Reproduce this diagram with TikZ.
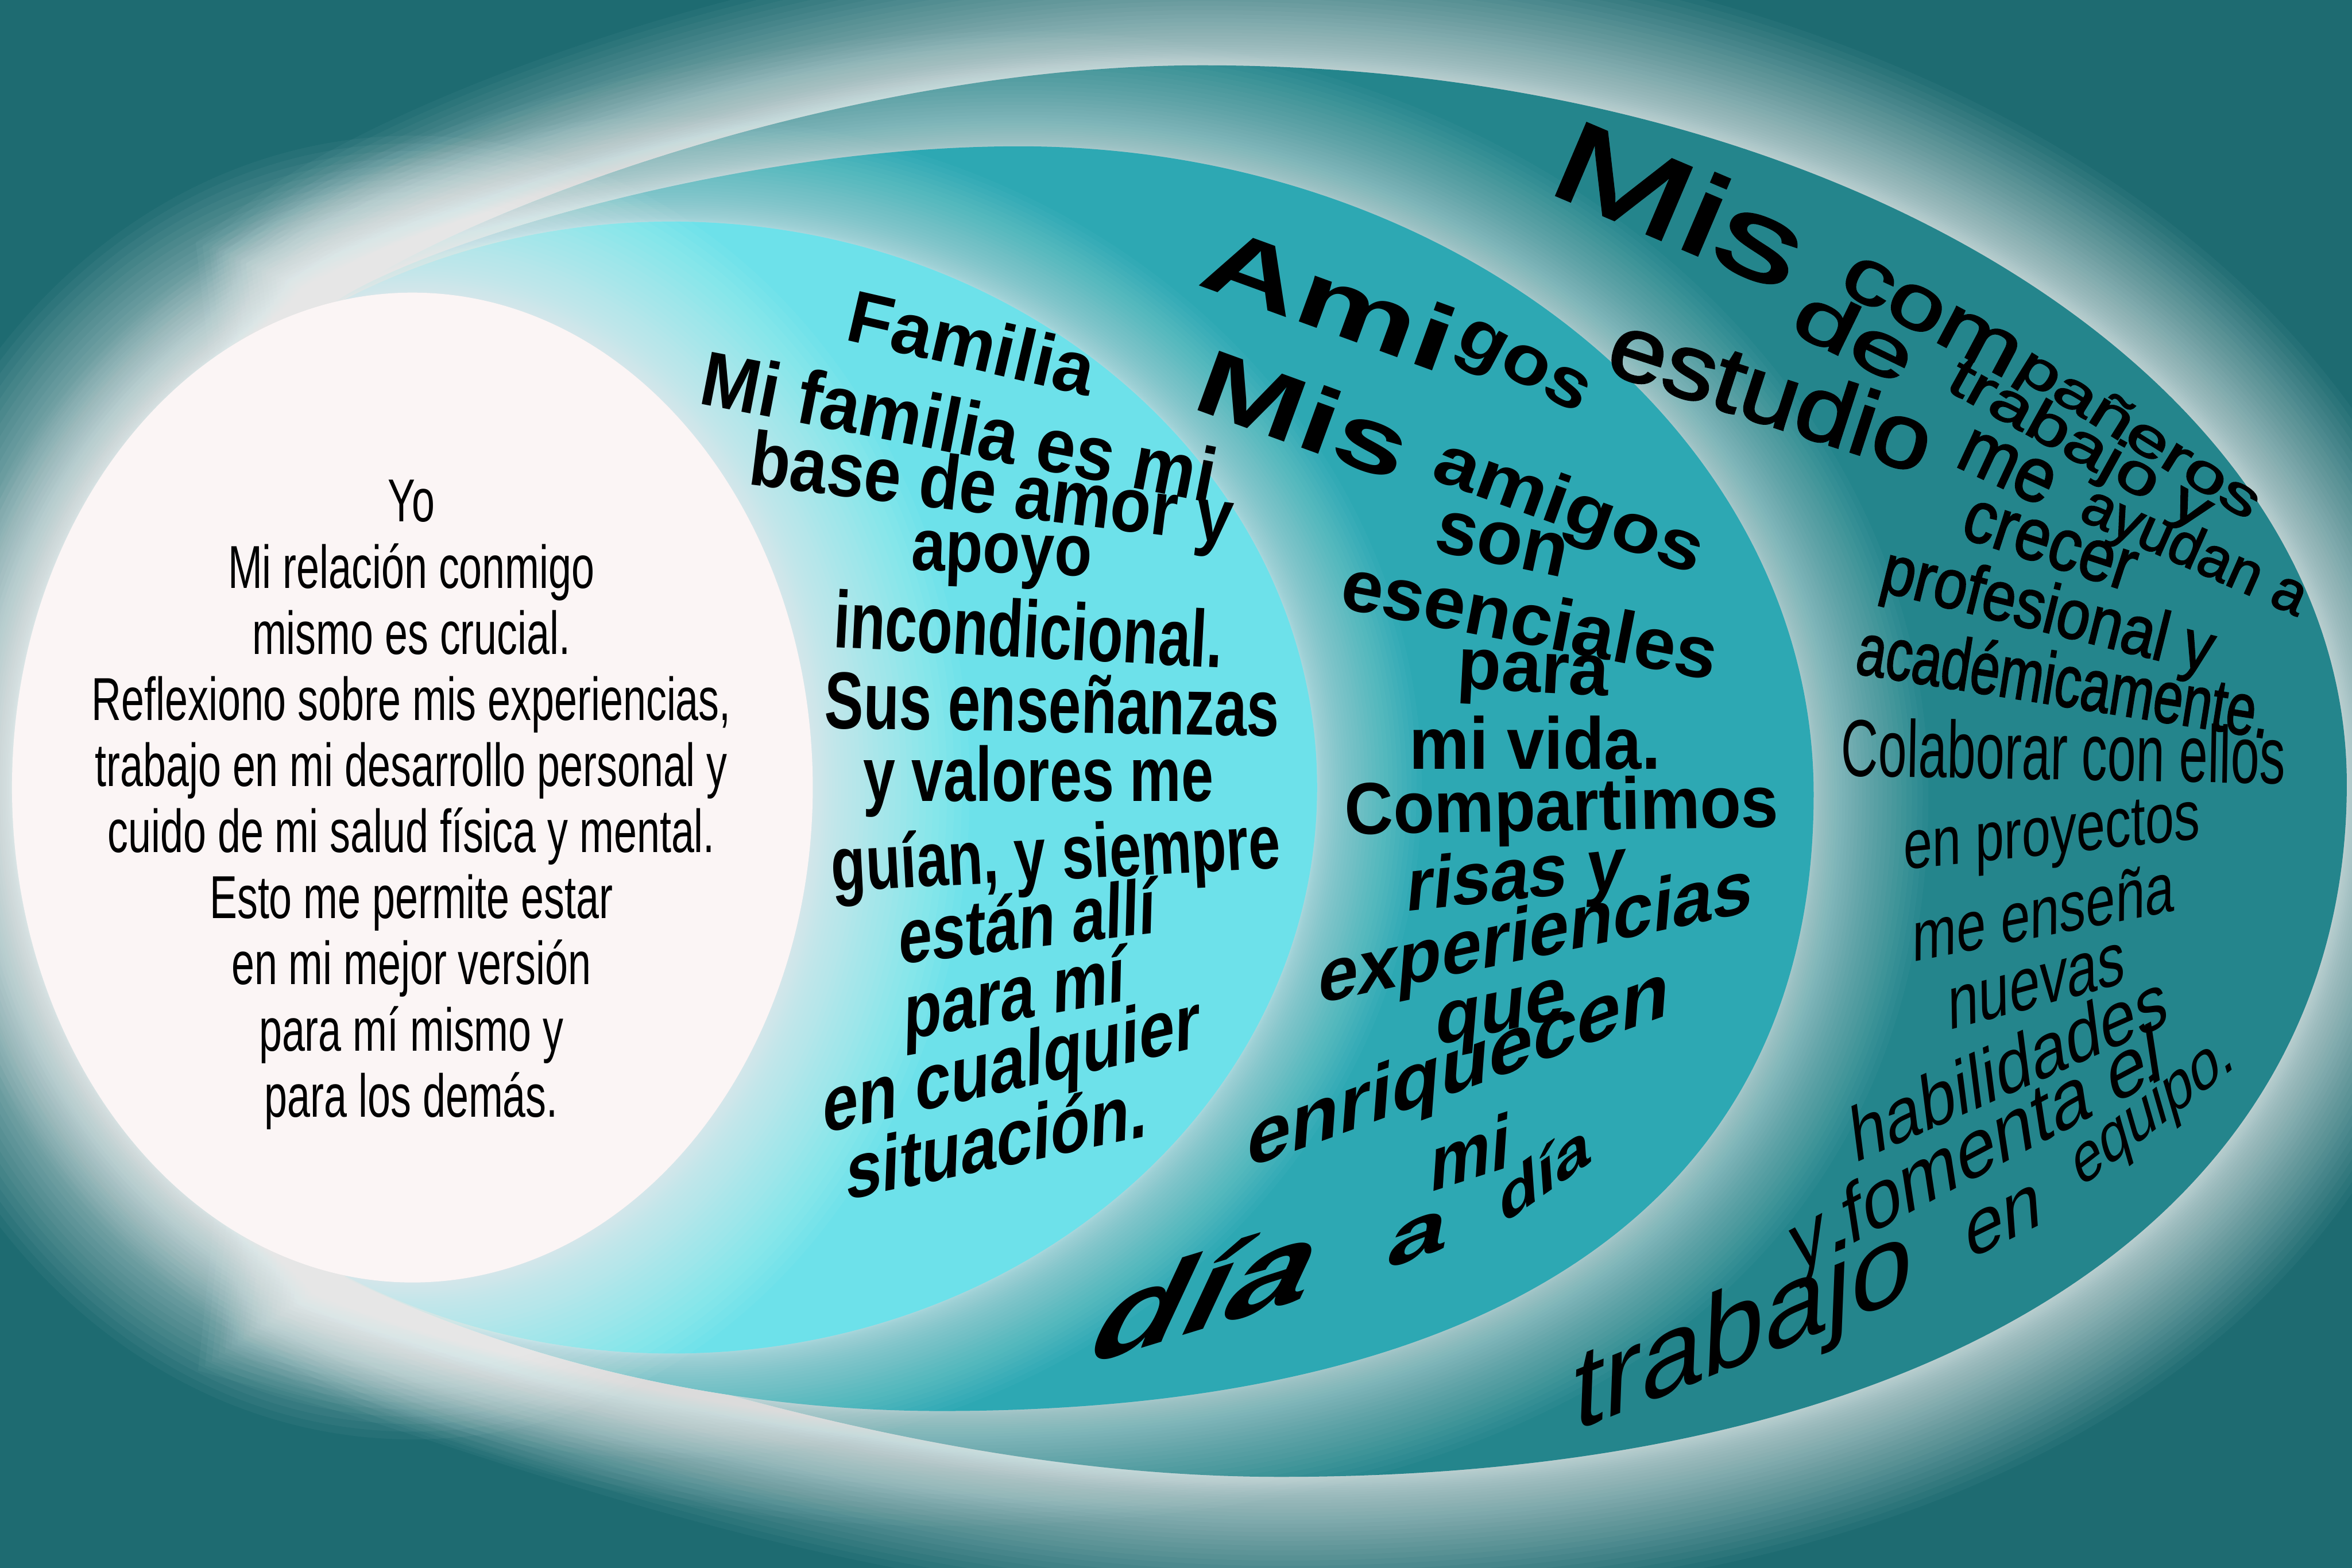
\documentclass[tikz,border=0pt]{standalone}
\usepackage{fontspec}
\setmainfont{Liberation Sans}
\newfontfamily\narrowf{Liberation Sans}[FakeStretch=0.68]
\newfontfamily\semib{Liberation Sans}[FakeBold=2]
\definecolor{bgc}{HTML}{1E6B71}
\definecolor{outc}{HTML}{24858C}
\definecolor{midc}{HTML}{2DA8B3}
\definecolor{innc}{HTML}{6DE1EA}
\definecolor{yoc}{HTML}{FBF5F5}
\newsavebox\fitbox
% bold warped line: width (cm), size (pt), text
\newcommand\fitline[3]{%
  \sbox\fitbox{\fontsize{#2}{#2}\selectfont\bfseries #3}%
  \edef\fitw{\the\wd\fitbox}%
  \pgfmathsetmacro\fitsc{#1*28.45274/\fitw}%
  \scalebox{\fitsc}[1]{\usebox\fitbox}}
% regular warped line
\newcommand\fitlinr[3]{%
  \sbox\fitbox{\fontsize{#2}{#2}\selectfont #3}%
  \edef\fitw{\the\wd\fitbox}%
  \pgfmathsetmacro\fitsc{#1*28.45274/\fitw}%
  \scalebox{\fitsc}[1]{\usebox\fitbox}}
% medium warped line
\newcommand\fitlinm[3]{%
  \sbox\fitbox{\semib\fontsize{#2}{#2}\selectfont #3}%
  \edef\fitw{\the\wd\fitbox}%
  \pgfmathsetmacro\fitsc{#1*28.45274/\fitw}%
  \scalebox{\fitsc}[1]{\usebox\fitbox}}
\def\outerP{(23,28.75) .. controls (35.26,28.75) and (44.9,22.67) .. (44.9,15)
  .. controls (44.9,6.78) and (37.15,1.74) .. (24.5,1.74)
  .. controls (17,1.74) and (10,4.6) .. (6.5,5.6)
  -- (7.5,15) -- (6.4,24.22)
  .. controls (8.5,25.8) and (16,28.75) .. (23,28.75) -- cycle}
\def\midP{(19.5,27.2) .. controls (27.9,27.2) and (34.7,21.65) .. (34.7,14.8)
  .. controls (34.7,7.13) and (28.86,3) .. (18,3)
  .. controls (13,3) and (9,4.4) .. (6.6,5.55)
  -- (7.5,15) -- (6.4,24.22)
  .. controls (8,25.3) and (14,27.2) .. (19.5,27.2) -- cycle}
\def\innP{(12.85,14.93) ellipse [x radius=12.35, y radius=10.83]}
\def\yoP{(7.89,14.93) ellipse [x radius=7.66, y radius=9.47]}
\tikzset{wt/.style={inner sep=0pt, transform shape},
  yotext/.style={align=center, inner sep=0pt, font=\narrowf\fontsize{33}{36}\selectfont}}
\begin{document}
\begin{tikzpicture}
\useasboundingbox (0,0) rectangle (45,30);
\clip (0,0) rectangle (45,30);
\fill[bgc] (0,0) rectangle (45,30);
% outer layer (work / study)
\foreach \i in {1,...,40}{\draw[white, opacity=0.035, line width=\i*\i*0.003125cm] \outerP;}
\fill[outc] \outerP;
% middle layer (friends)
\foreach \i in {1,...,40}{\draw[white, opacity=0.026, line width=\i*\i*0.00275cm] \midP;}
\fill[midc] \midP;
% inner layer (family)
\foreach \i in {1,...,40}{\draw[white, opacity=0.026, line width=\i*\i*0.0025cm] \innP;}
\fill[innc] \innP;
% Yo
\foreach \i in {1,...,40}{\draw[white, opacity=0.04, line width=\i*\i*0.00375cm] \yoP;}
\fill[yoc] \yoP;

\node[yotext] (yo) at (7.87,14.60) {Yo\\Mi relación conmigo\\mismo es crucial.\\Reflexiono sobre mis experiencias,\\trabajo en mi desarrollo personal y\\cuido de mi salud física y mental.\\Esto me permite estar\\en mi mejor versión\\para mí mismo y\\para los demás.};

% Familia
\node[wt, rotate=-13] (f1) at (18.60,23.45) {\fitline{4.8}{40}{Familia}};
\node[wt, rotate=-11] (f2) at (18.35,21.85) {\fitline{10.0}{42}{Mi familia es mi}};
\node[wt, rotate=-7] (f3) at (18.96,20.54) {\fitline{9.3}{42}{base de amor y}};
\node[wt, rotate=-2] (f4) at (19.16,19.27) {\fitline{3.45}{40}{apoyo}};
\node[wt, rotate=-3] (f5) at (19.68,17.97) {\fitline{7.45}{44}{incondicional.}};
\node[wt, rotate=-1] (f6) at (20.13,16.54) {\fitline{8.7}{44}{Sus enseñanzas}};
\node[wt, rotate=0] (f7) at (19.87,15.05) {\fitline{6.7}{42}{y valores me}};
\node[wt, rotate=3] (f8) at (20.20,13.55) {\fitline{8.6}{42}{guían, y siempre}};
\node[wt, rotate=7, xslant=0.15] (f9) at (19.66,12.39) {\fitline{4.95}{42}{están allí}};
\node[wt, rotate=10, xslant=0.2] (f10) at (19.41,10.87) {\fitline{4.3}{42}{para mí}};
\node[wt, rotate=13, xslant=0.25] (f11) at (19.35,9.53) {\fitline{7.4}{42}{en cualquier}};
\node[wt, rotate=12, xslant=0.25] (f12) at (19.08,8.20) {\fitline{5.9}{42}{situación.}};

% Amigos
\node[wt, rotate=-20] (a1) at (25.45,24.30) {\fitline{5.0}{50}{Ami}};
\node[wt, rotate=-28] (a2) at (29.10,22.90) {\fitline{2.7}{38}{gos}};
\node[wt, rotate=-20] (a3) at (24.95,22.08) {\fitline{4.2}{50}{Mis}};
\node[wt, rotate=-20] (a4) at (30.00,20.24) {\fitline{5.4}{38}{amigos}};
\node[wt, rotate=-12] (a5) at (28.73,19.59) {\fitline{2.55}{42}{son}};
\node[wt, rotate=-11] (a6) at (29.28,18.17) {\fitline{7.3}{40}{esenciales}};
\node[wt, rotate=-3] (a7) at (29.33,16.99) {\fitline{2.9}{40}{para}};
\node[wt, rotate=0] (a8) at (29.37,15.79) {\fitline{4.8}{40}{mi vida.}};
\node[wt, rotate=1] (a9) at (29.88,14.47) {\fitline{8.3}{40}{Compartimos}};
\node[wt, rotate=6, xslant=0.2] (a10) at (29.00,13.15) {\fitline{4.2}{40}{risas y}};
\node[wt, rotate=12, xslant=0.3] (a11) at (29.38,12.05) {\fitline{8.5}{40}{experiencias}};
\node[wt, rotate=12, xslant=0.3] (a12) at (28.70,10.50) {\fitline{2.55}{40}{que}};
\node[wt, rotate=20, xslant=0.45] (a13) at (27.90,9.50) {\fitline{8.6}{40}{enriquecen}};
\node[wt, rotate=18, xslant=0.4] (a14) at (28.14,7.97) {\fitline{1.6}{40}{mi}};
\node[wt, rotate=17, xslant=0.9] (a15) at (23.15,5.35) {\fitline{4.4}{56}{día}};
\node[wt, rotate=20, xslant=0.6] (a16) at (27.12,6.30) {\fitline{1.2}{38}{a}};
\node[wt, rotate=35, xslant=0.6] (a17) at (29.55,7.60) {\fitline{2.1}{30}{día}};

% Companeros
\node[wt, rotate=-23] (c1) at (32.15,26.10) {\fitlinm{5.0}{62}{Mis}};
\node[wt, rotate=-28] (c2) at (36.95,23.95) {\fitlinm{3.7}{42}{com}};
\node[wt, rotate=-32] (c3) at (40.90,21.65) {\fitlinm{5.3}{29}{pañeros}};
\node[wt, rotate=-26] (c4) at (35.50,23.60) {\fitlinm{2.4}{40}{de}};
\node[wt, rotate=-29] (c5) at (39.78,21.45) {\fitlinm{5.6}{31}{trabajo y}};
\node[wt, rotate=-18] (c6) at (33.90,22.50) {\fitlinm{6.4}{50}{estudio}};
\node[wt, rotate=-25] (c7) at (38.40,21.05) {\fitlinm{1.9}{42}{me}};
\node[wt, rotate=-24] (c8) at (41.97,19.40) {\fitlinm{4.6}{32}{ayudan a}};
\node[wt, rotate=-18] (c9) at (39.21,19.56) {\fitlinm{3.4}{40}{crecer}};
\node[wt, rotate=-14] (c10) at (39.17,18.25) {\fitlinm{6.5}{38}{profesional y}};
\node[wt, rotate=-9] (c11) at (39.50,17.00) {\fitlinm{8.0}{40}{académicamente.}};
\node[wt, rotate=-1] (c12) at (39.48,15.63) {\fitlinr{8.5}{44}{Colaborar con ellos}};
\node[wt, rotate=6, xslant=0.1] (c13) at (39.26,13.95) {\fitlinr{5.7}{38}{en proyectos}};
\node[wt, rotate=11, xslant=0.2] (c14) at (39.10,12.56) {\fitlinr{5.1}{38}{me enseña}};
\node[wt, rotate=15, xslant=0.25] (c15) at (38.97,11.12) {\fitlinr{3.5}{40}{nuevas}};
\node[wt, rotate=24, xslant=0.3] (c16) at (38.43,9.60) {\fitlinr{6.6}{40}{habilidades}};
\node[wt, rotate=28, xslant=0.35] (c17) at (37.82,7.90) {\fitlinr{8.0}{42}{y fomenta el}};
\node[wt, rotate=22, xslant=0.45] (c18) at (33.35,4.48) {\fitlinr{7.0}{58}{trabajo}};
\node[wt, rotate=26, xslant=0.4] (c19) at (38.33,6.63) {\fitlinr{1.6}{40}{en}};
\node[wt, rotate=38, xslant=0.4] (c20) at (41.20,8.74) {\fitlinr{3.8}{34}{equipo.}};
\end{tikzpicture}
\end{document}
